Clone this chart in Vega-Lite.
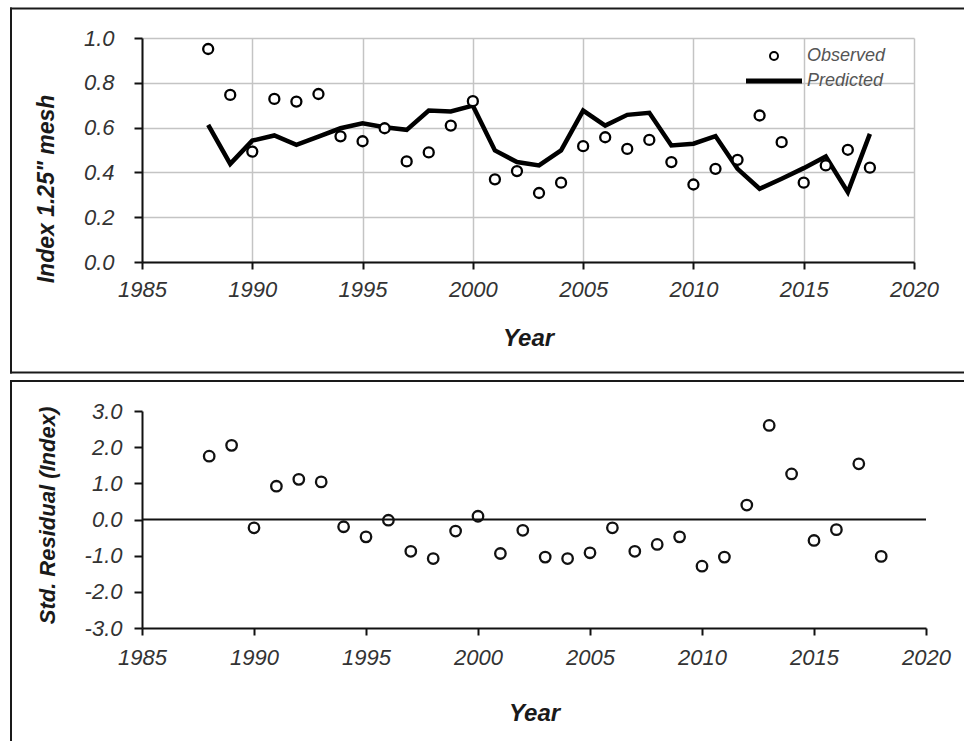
{
  "$schema": "https://vega.github.io/schema/vega-lite/v6.json",
  "background": "white",
  "padding": {"left": 9, "top": 7, "right": 0, "bottom": 0},
  "spacing": 5,
  "config": {
    "view": {"stroke": null},
    "font": "Liberation Sans",
    "axis": {
      "domainColor": "#111111",
      "domainWidth": 2,
      "tickColor": "#111111",
      "tickWidth": 2,
      "labelFont": "Liberation Sans",
      "labelFontStyle": "italic",
      "labelFontSize": 22,
      "labelColor": "#333333",
      "labelFlush": false,
      "labelOverlap": false,
      "titleFont": "Liberation Sans",
      "titleFontStyle": "italic",
      "titleFontWeight": "bold",
      "titleColor": "#1a1a1a"
    }
  },
  "datasets": {
    "series": [
      {"year": 1988, "observed": 0.951, "predicted": 0.612, "residual": 1.75},
      {"year": 1989, "observed": 0.746, "predicted": 0.438, "residual": 2.05},
      {"year": 1990, "observed": 0.493, "predicted": 0.542, "residual": -0.23},
      {"year": 1991, "observed": 0.728, "predicted": 0.565, "residual": 0.92},
      {"year": 1992, "observed": 0.716, "predicted": 0.523, "residual": 1.11},
      {"year": 1993, "observed": 0.750, "predicted": 0.560, "residual": 1.04},
      {"year": 1994, "observed": 0.561, "predicted": 0.597, "residual": -0.20},
      {"year": 1995, "observed": 0.539, "predicted": 0.619, "residual": -0.48},
      {"year": 1996, "observed": 0.597, "predicted": 0.602, "residual": -0.02},
      {"year": 1997, "observed": 0.449, "predicted": 0.590, "residual": -0.88},
      {"year": 1998, "observed": 0.489, "predicted": 0.676, "residual": -1.08},
      {"year": 1999, "observed": 0.609, "predicted": 0.672, "residual": -0.32},
      {"year": 2000, "observed": 0.718, "predicted": 0.698, "residual": 0.09},
      {"year": 2001, "observed": 0.369, "predicted": 0.498, "residual": -0.94},
      {"year": 2002, "observed": 0.406, "predicted": 0.446, "residual": -0.30},
      {"year": 2003, "observed": 0.308, "predicted": 0.431, "residual": -1.04},
      {"year": 2004, "observed": 0.354, "predicted": 0.498, "residual": -1.08},
      {"year": 2005, "observed": 0.517, "predicted": 0.676, "residual": -0.92},
      {"year": 2006, "observed": 0.557, "predicted": 0.609, "residual": -0.23},
      {"year": 2007, "observed": 0.505, "predicted": 0.657, "residual": -0.88},
      {"year": 2008, "observed": 0.545, "predicted": 0.666, "residual": -0.69},
      {"year": 2009, "observed": 0.446, "predicted": 0.520, "residual": -0.48},
      {"year": 2010, "observed": 0.346, "predicted": 0.528, "residual": -1.29},
      {"year": 2011, "observed": 0.416, "predicted": 0.562, "residual": -1.04},
      {"year": 2012, "observed": 0.456, "predicted": 0.416, "residual": 0.40},
      {"year": 2013, "observed": 0.654, "predicted": 0.327, "residual": 2.60},
      {"year": 2014, "observed": 0.535, "predicted": 0.372, "residual": 1.26},
      {"year": 2015, "observed": 0.354, "predicted": 0.419, "residual": -0.58},
      {"year": 2016, "observed": 0.431, "predicted": 0.471, "residual": -0.28},
      {"year": 2017, "observed": 0.501, "predicted": 0.312, "residual": 1.54},
      {"year": 2018, "observed": 0.421, "predicted": 0.572, "residual": -1.02}
    ]
  },
  "vconcat": [
    {
      "width": 772,
      "height": 224,
      "layer": [
        {
          "data": {"name": "series"},
          "mark": {"type": "line", "stroke": "black", "strokeWidth": 4.5},
          "encoding": {
            "x": {
              "field": "year", "type": "quantitative",
              "scale": {"domain": [1985, 2020], "nice": false, "zero": false},
              "axis": {
                "values": [1985, 1990, 1995, 2000, 2005, 2010, 2015, 2020],
                "tickCount": 8,
                "format": "d",
                "title": "Year",
                "grid": true, "gridColor": "#c4c4c4", "gridWidth": 1.5,
                "tickSize": 7, "labelPadding": 10.7,
                "titleFontSize": 24, "titleY": 64, "titleBaseline": "top"
              }
            },
            "y": {
              "field": "predicted", "type": "quantitative",
              "scale": {"domain": [0, 1], "nice": false, "zero": false},
              "axis": {
                "values": [0, 0.2, 0.4, 0.6, 0.8, 1],
                "tickCount": 6,
                "format": ".1f",
                "title": "Index 1.25\" mesh",
                "grid": true, "gridColor": "#c4c4c4", "gridWidth": 1.5,
                "tickSize": 8, "labelPadding": 20,
                "titleFontSize": 23, "titleX": -96, "titleY": 150.5, "titleBaseline": "middle"
              }
            },
            "color": {
              "datum": "Predicted",
              "scale": {"domain": ["Observed", "Predicted"], "range": ["black", "black"]},
              "legend": {
                "orient": "none",
                "legendX": 623,
                "legendY": 9,
                "title": null,
                "padding": 0,
                "symbolSize": 3136,
                "symbolStrokeWidth": 5,
                "rowPadding": 6,
                "labelOffset": 24,
                "labelFont": "Liberation Sans",
                "labelFontStyle": "italic",
                "labelFontSize": 18,
                "labelColor": "#555555",
                "encode": {
                  "symbols": {
                    "update": {
                      "shape": {"signal": "datum.value === 'Predicted' ? 'stroke' : 'circle'"},
                      "size": {"signal": "datum.value === 'Predicted' ? 3136 : 64"},
                      "strokeWidth": {"signal": "datum.value === 'Predicted' ? 5 : 2"},
                      "fill": {"value": "transparent"},
                      "stroke": {"value": "black"},
                      "opacity": {"value": 1}
                    }
                  }
                }
              }
            }
          }
        },
        {
          "data": {"name": "series"},
          "mark": {"type": "point", "shape": "circle", "filled": false, "fill": "white", "fillOpacity": 1, "opacity": 1, "size": 100, "strokeWidth": 2.3},
          "encoding": {
            "x": {"field": "year", "type": "quantitative"},
            "y": {"field": "observed", "type": "quantitative", "title": "Index 1.25\" mesh"},
            "color": {"datum": "Observed"}
          }
        },
        {
          "data": {"values": [{}]},
          "mark": {"type": "rule", "stroke": "#1a1a1a", "strokeWidth": 2, "strokeCap": "square"},
          "encoding": {
            "x": {"datum": 1979.061, "type": "quantitative"},
            "y": {"datum": 1.1317, "type": "quantitative"},
            "y2": {"datum": -0.4933}
          }
        },
        {
          "data": {"values": [{}]},
          "mark": {"type": "rule", "stroke": "#1a1a1a", "strokeWidth": 2, "strokeCap": "square"},
          "encoding": {
            "x": {"datum": 1979.061, "type": "quantitative"},
            "x2": {"datum": 2022.267},
            "y": {"datum": 1.1317, "type": "quantitative"}
          }
        },
        {
          "data": {"values": [{}]},
          "mark": {"type": "rule", "stroke": "#1a1a1a", "strokeWidth": 2, "strokeCap": "square"},
          "encoding": {
            "x": {"datum": 1979.061, "type": "quantitative"},
            "x2": {"datum": 2022.267},
            "y": {"datum": -0.4933, "type": "quantitative"}
          }
        }
      ]
    },
    {
      "width": 784,
      "height": 217,
      "layer": [
        {
          "data": {"name": "series"},
          "mark": {"type": "point", "shape": "circle", "filled": false, "fill": "white", "fillOpacity": 1, "opacity": 1, "size": 110, "stroke": "#111111", "strokeWidth": 2.3},
          "encoding": {
            "x": {
              "field": "year", "type": "quantitative",
              "scale": {"domain": [1985, 2020], "nice": false, "zero": false},
              "axis": {
                "values": [1985, 1990, 1995, 2000, 2005, 2010, 2015, 2020],
                "tickCount": 8,
                "format": "d",
                "title": "Year",
                "grid": false,
                "tickSize": 7, "labelPadding": 12.7,
                "titleFontSize": 24, "titleY": 73.5, "titleBaseline": "top"
              }
            },
            "y": {
              "field": "residual", "type": "quantitative",
              "scale": {"domain": [-3, 3], "nice": false, "zero": false},
              "axis": {
                "values": [-3, -2, -1, 0, 1, 2, 3],
                "tickCount": 7,
                "labelExpr": "(datum.value < 0 ? '-' : '') + format(abs(datum.value), '.1f')",
                "title": "Std. Residual (Index)",
                "grid": false,
                "tickSize": 8, "labelPadding": 12,
                "titleFontSize": 22, "titleX": -95, "titleY": 104, "titleBaseline": "middle"
              }
            }
          }
        },
        {
          "data": {"values": [{}]},
          "mark": {"type": "rule", "stroke": "#1a1a1a", "strokeWidth": 2, "strokeCap": "square"},
          "encoding": {
            "x": {"datum": 1979.152, "type": "quantitative"},
            "y": {"datum": 3.8295, "type": "quantitative"},
            "y2": {"datum": -6.1244}
          }
        },
        {
          "data": {"values": [{}]},
          "mark": {"type": "rule", "stroke": "#1a1a1a", "strokeWidth": 2, "strokeCap": "square"},
          "encoding": {
            "x": {"datum": 1979.152, "type": "quantitative"},
            "x2": {"datum": 2021.696},
            "y": {"datum": 3.8295, "type": "quantitative"}
          }
        },
        {
          "data": {"values": [{}]},
          "mark": {"type": "rule", "stroke": "#111111", "strokeWidth": 2},
          "encoding": {
            "x": {"datum": 1985, "type": "quantitative"},
            "x2": {"datum": 2020},
            "y": {"datum": 0, "type": "quantitative"}
          }
        }
      ]
    }
  ]
}
